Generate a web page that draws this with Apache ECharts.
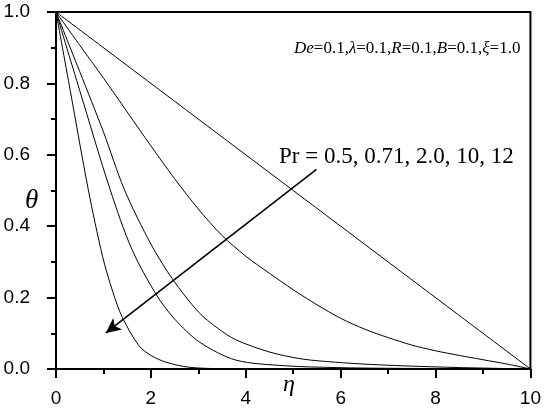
<!DOCTYPE html>
<html>
<head>
<meta charset="utf-8">
<script src="https://cdn.jsdelivr.net/npm/echarts@6/dist/echarts.min.js"></script>
<style>html,body{margin:0;padding:0;background:#fff;}#c{width:544px;height:408px;}</style>
</head>
<body>
<div id="c"></div>
<script>
// ---- data ----
const xTicks = [0, 2, 4, 6, 8, 10];
const yTicks = [0.0, 0.2, 0.4, 0.6, 0.8, 1.0];
const prLabels = ['0.5', '0.71', '2.0', '10', '12'];
const curvePr05 = [[0,1],[10,0]];
const curvePr071 = [[0,1],[0.5,0.907],[1,0.815],[1.5,0.72],[2,0.625],[2.5,0.533],[3,0.448],[3.5,0.374],[4,0.316],[4.5,0.268],[5,0.222],[5.5,0.180],[6,0.142],[6.5,0.112],[7,0.088],[7.5,0.067],[8,0.051],[8.5,0.038],[9,0.026],[9.5,0.014],[10,0]];
const curvePr2 = [[0,1],[0.5,0.833],[1,0.664],[1.44,0.503],[2,0.35],[2.46,0.251],[3,0.16],[3.4,0.115],[3.79,0.082],[4.49,0.048],[5.19,0.028],[5.89,0.019],[6.6,0.013],[7.3,0.009],[8.5,0.004],[10,0]];
const curvePr10 = [[0,1],[0.5,0.78],[1.14,0.503],[1.6,0.335],[2.11,0.209],[2.5,0.14],[3.03,0.075],[3.79,0.025],[4.84,0.009],[5.9,0.004],[7,0.002],[10,0]];
const curvePr12 = [[0,1],[0.3,0.78],[0.68,0.503],[0.98,0.316],[1.2,0.215],[1.4,0.144],[1.75,0.065],[2,0.038],[2.32,0.019],[2.8,0.005],[3.5,0.001],[10,0]];
const arrowFrom = [5.49, 0.559];
const arrowTo = [1.05, 0.101];
const paramText = ['De','=0.1,','λ','=0.1,','R','=0.1,','B','=0.1,','ξ','=1.0'];

const chart = echarts.init(document.getElementById('c'), null, {renderer:'canvas'});
function mk(name, data){
  return {name:name, type:'line', data:data, showSymbol:false, smooth:0.3,
    lineStyle:{color:'#000', width:1}, silent:true, animation:false};
}
const series = [
  mk('Pr=0.5', curvePr05),
  mk('Pr=0.71', curvePr071),
  mk('Pr=2.0', curvePr2),
  mk('Pr=10', curvePr10),
  mk('Pr=12', curvePr12)
];
series[0].markLine = {
  silent:true, animation:false, symbol:['none','arrow'], symbolSize:[11,15],
  label:{show:false}, lineStyle:{color:'#000', width:1.6, type:'solid'},
  data:[[{coord:arrowFrom},{coord:arrowTo}]]
};
const rich = {
  it:{fontFamily:'Liberation Serif', fontStyle:'italic', fontSize:17, fill:'#000'},
  n:{fontFamily:'Liberation Serif', fontSize:17, fill:'#000'}
};
const paramStr = paramText.map((t,i)=> i%2===0 ? '{it|'+t+'}' : '{n|'+t+'}').join('');

const axisCommon = {
  axisLine:{show:true, onZero:false, lineStyle:{color:'#000', width:2}},
  axisTick:{show:true, inside:false, length:9, lineStyle:{color:'#000', width:2}},
  minorTick:{show:true, splitNumber:2, length:5, lineStyle:{color:'#000', width:2}},
  splitLine:{show:false},
  axisLabel:{color:'#000', fontFamily:'Liberation Sans', fontSize:19}
};
chart.setOption({
  animation:false,
  backgroundColor:'#fff',
  grid:{left:56, right:13, top:12, bottom:38, show:true, borderColor:'#000', borderWidth:2},
  xAxis:Object.assign({}, axisCommon, {
    type:'value', min:xTicks[0], max:xTicks[xTicks.length-1], interval:2,
    axisLabel:Object.assign({}, axisCommon.axisLabel, {margin:20})
  }),
  yAxis:Object.assign({}, axisCommon, {
    type:'value', min:yTicks[0], max:yTicks[yTicks.length-1], interval:0.2,
    axisLabel:Object.assign({}, axisCommon.axisLabel, {margin:26, formatter:v=>v.toFixed(1)})
  }),
  series:series,
  graphic:[
    {type:'text', left:294, top:40, style:{rich:rich, text:paramStr}},
    {type:'text', left:279, top:145, style:{text:'Pr = ' + prLabels.join(', '), fontFamily:'Liberation Serif', fontSize:23, fill:'#000'}},
    {type:'text', left:25, top:187, style:{text:'θ', fontFamily:'Liberation Serif', fontStyle:'italic', fontSize:27, fill:'#000'}},
    {type:'text', left:283, top:373, style:{text:'η', fontFamily:'Liberation Serif', fontStyle:'italic', fontSize:24, fill:'#000'}}
  ]
});
</script>
</body>
</html>
